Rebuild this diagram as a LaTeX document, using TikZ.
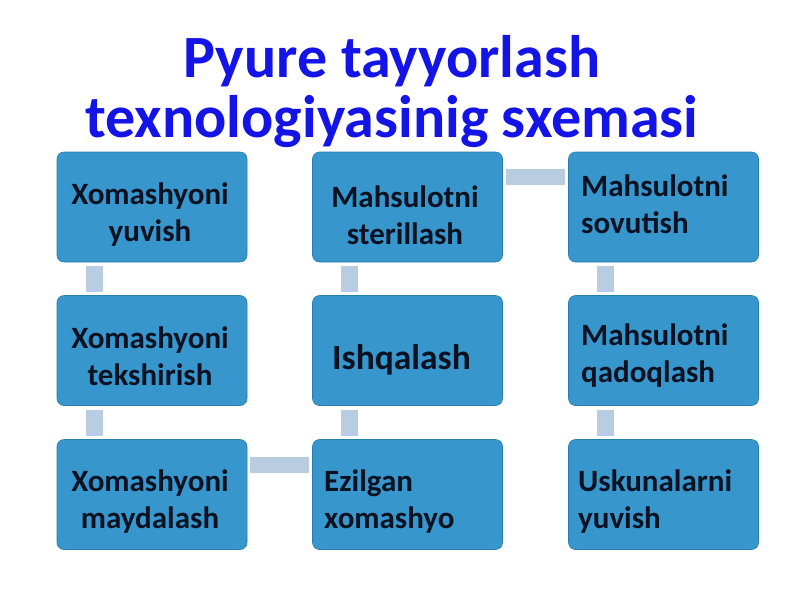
\documentclass[tikz,border=0pt]{standalone}
\usepackage{fontspec}
\setmainfont{Carlito}
\usetikzlibrary{calc}
\definecolor{boxblue}{RGB}{55,151,204}
\definecolor{boxedge}{RGB}{40,125,175}
\definecolor{conncol}{RGB}{184,204,226}
\definecolor{txtcol}{RGB}{10,18,34}
\definecolor{titleblue}{RGB}{20,20,230}
\begin{document}
\begin{tikzpicture}[x=1pt,y=-1pt,
  box/.style={draw=boxedge, line width=0.6pt, fill=boxblue, rounded corners=7pt,
    minimum width=190pt, minimum height=110pt, inner sep=0pt},
  boxtext/.style={font=\fontsize{31}{37}\selectfont\bfseries, text=txtcol, inner sep=0pt},
  conn/.style={draw=conncol, line width=17pt},
  hconn/.style={draw=conncol, line width=16pt}]
\useasboundingbox[fill=white] (0,0) rectangle (800,600);
% title
\node[font=\fontsize{60}{60}\selectfont\bfseries, text=titleblue, align=center, inner sep=0pt]
  (title) at (392,92) {Pyure tayyorlash\\texnologiyasinig sxemasi};
% boxes
\node[box] (a1) at (152,207) {};
\node[box] (a2) at (152,350.5) {};
\node[box] (a3) at (152,494.5) {};
\node[box] (b1) at (407.5,207) {};
\node[box] (b2) at (407.5,350.5) {};
\node[box] (b3) at (407.5,494.5) {};
\node[box] (c1) at (663.5,207) {};
\node[box] (c2) at (663.5,350.5) {};
\node[box] (c3) at (663.5,494.5) {};
% connectors
\draw[conn] ($(a1.south west)+(37.5,4)$) -- ($(a2.north west)+(37.5,-3)$);
\draw[conn] ($(a2.south west)+(37.5,4)$) -- ($(a3.north west)+(37.5,-3)$);
\draw[hconn] ($(a3.north east)+(3,25.5)$) -- ($(b3.north west)+(-3,25.5)$);
\draw[conn] ($(b3.north west)+(37.5,-3)$) -- ($(b2.south west)+(37.5,4)$);
\draw[conn] ($(b2.north west)+(37.5,-3)$) -- ($(b1.south west)+(37.5,4)$);
\draw[hconn] ($(b1.north east)+(3,25)$) -- ($(c1.north west)+(-3,25)$);
\draw[conn] ($(c1.south west)+(37.5,4)$) -- ($(c2.north west)+(37.5,-3)$);
\draw[conn] ($(c2.south west)+(37.5,4)$) -- ($(c3.north west)+(37.5,-3)$);
% texts
\node[boxtext, align=center] (ta1) at (150,215) {Xomashyoni\\yuvish};
\node[boxtext, align=center] (ta2) at (150,356) {Xomashyoni\\tekshirish};
\node[boxtext, align=center] (ta3) at (150,502) {Xomashyoni\\maydalash};
\node[boxtext, align=center] (tb1) at (405,215) {Mahsulotni\\sterillash};
\node[font=\fontsize{35.5}{40}\selectfont\bfseries, text=txtcol, inner sep=0pt, anchor=base] (tb2) at (401.5,369) {Ishqalash};
\node[boxtext, align=left, anchor=west] (tb3) at (324,502) {Ezilgan\\xomashyo};
\node[boxtext, align=left, anchor=west] (tc1) at (581,204) {Mahsulotni\\sovutish};
\node[boxtext, align=left, anchor=west] (tc2) at (581,356) {Mahsulotni\\qadoqlash};
\node[boxtext, align=left, anchor=west] (tc3) at (578,502) {Uskunalarni\\yuvish};
\end{tikzpicture}
\end{document}
